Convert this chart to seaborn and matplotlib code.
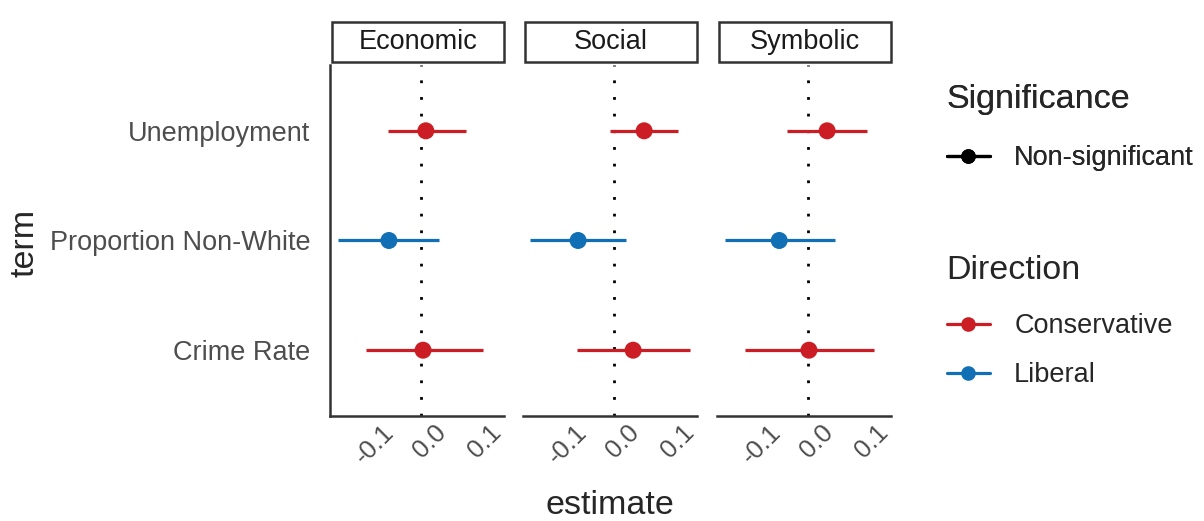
import pandas as pd
import numpy as np
import matplotlib.pyplot as plt
import seaborn as sns
from matplotlib.lines import Line2D
from matplotlib.patches import Rectangle
from matplotlib.transforms import ScaledTranslation

# datos
panels = ["Economic", "Social", "Symbolic"]
terms = ["Crime Rate", "Proportion Non-White", "Unemployment"]  # de abajo hacia arriba

est_economic = [0.004, -0.058, 0.009]
low_economic = [-0.100, -0.151, -0.060]
high_economic = [0.113, 0.033, 0.082]

est_social = [0.035, -0.065, 0.055]
low_social = [-0.067, -0.153, -0.007]
high_social = [0.138, 0.022, 0.117]

est_symbolic = [0.002, -0.052, 0.035]
low_symbolic = [-0.114, -0.151, -0.038]
high_symbolic = [0.120, 0.049, 0.107]

direction = ["Conservative", "Liberal", "Conservative"]
xticks = [-0.1, 0.0, 0.1]
xticklabels = ["-0.1", "0.0", "0.1"]

colores = {"Conservative": "#CB1D23", "Liberal": "#1170B5"}

filas = []
for p, e, lo, hi in zip(panels,
                        [est_economic, est_social, est_symbolic],
                        [low_economic, low_social, low_symbolic],
                        [high_economic, high_social, high_symbolic]):
    for i, t in enumerate(terms):
        filas.append({"panel": p, "term": t, "pos": i + 1, "estimate": e[i],
                      "low": lo[i], "high": hi[i], "Direction": direction[i]})
df = pd.DataFrame(filas)

sns.set_style("white")
plt.rcParams['font.family'] = ['Liberation Sans', 'DejaVu Sans']

W, H = 1204, 521
fig = plt.figure(figsize=(W / 100, H / 100), dpi=100)

lefts = [330, 523, 717]
ancho = 174
top, bottom = 65, 416
txt = 19.5
tit = 24.5

for k, p in enumerate(panels):
    ax = fig.add_axes([lefts[k] / W, (H - bottom) / H, ancho / W, (bottom - top) / H])
    d = df[df.panel == p]
    ax.axvline(0, color="black", linestyle=(0, (1, 5)), linewidth=2.0, zorder=1)
    for _, r in d.iterrows():
        ax.hlines(r["pos"], r["low"], r["high"], color=colores[r["Direction"]],
                  linewidth=2.3, zorder=2)
    sns.scatterplot(data=d, x="estimate", y="pos", hue="Direction", palette=colores,
                    s=150, edgecolor="none", legend=False, ax=ax, zorder=3)
    ax.set_xlim(-0.165, 0.151)
    ax.set_ylim(0.4, 3.6)
    ax.set_xlabel("")
    ax.set_ylabel("")
    for s in ["top", "right"]:
        ax.spines[s].set_visible(False)
    ax.spines["bottom"].set_color("#333333")
    ax.spines["bottom"].set_linewidth(1.8)
    ax.tick_params(axis="x", length=6, width=1.6, color="#333333", pad=2)
    ax.set_xticks(xticks)
    ax.set_xticklabels(xticklabels, rotation=45, ha="center", va="top",
                       fontsize=18.5, color="#4D4D4D")
    # desplazar etiquetas como en ggplot (angle = 45)
    for lab in ax.get_xticklabels():
        lab.set_transform(lab.get_transform() + ScaledTranslation(0.09, 0.07, fig.dpi_scale_trans))
    if k == 0:
        ax.spines["left"].set_color("#333333")
        ax.spines["left"].set_linewidth(1.8)
        ax.tick_params(axis="y", length=6, width=1.6, color="#333333", pad=8)
        ax.set_yticks([1, 2, 3])
        ax.set_yticklabels(terms, fontsize=txt, color="#4D4D4D")
    else:
        ax.spines["left"].set_visible(False)
        ax.set_yticks([])
    # cabecera del facet
    fig.patches.append(Rectangle(((lefts[k] + 2) / W, (H - 62) / H), (ancho - 2) / W, 40 / H,
                                 transform=fig.transFigure, facecolor="white",
                                 edgecolor="#333333", linewidth=1.8))
    fig.text((lefts[k] + 1 + ancho / 2) / W, (H - 42) / H, p, ha="center", va="center",
             fontsize=txt, color="#1A1A1A")

fig.text(25 / W, (H - 243) / H, "term", rotation=90, ha="center", va="center", fontsize=tit)
fig.text(610 / W, (H - 505) / H, "estimate", ha="center", va="center", fontsize=tit)

h_sig = [Line2D([], [], color="black", marker="o", markersize=9.5, linewidth=2.3)]
leg1 = fig.legend(h_sig, ["Non-significant"], title="Significance", loc="upper left",
                  bbox_to_anchor=(933 / W, (H - 70) / H), frameon=False, fontsize=txt,
                  title_fontsize=tit, handlelength=1.6, alignment="left", borderpad=0,
                  handletextpad=0.9)
leg1._legend_box.sep = 22
h_dir = [Line2D([], [], color=colores[c], marker="o", markersize=9.5, linewidth=2.3)
         for c in ["Conservative", "Liberal"]]
leg2 = fig.legend(h_dir, ["Conservative", "Liberal"], title="Direction", loc="upper left",
                  bbox_to_anchor=(933 / W, (H - 241) / H), frameon=False, fontsize=txt,
                  title_fontsize=tit, handlelength=1.6, alignment="left", labelspacing=0.85,
                  borderpad=0, handletextpad=0.9)
leg2._legend_box.sep = 20
fig.add_artist(leg1)

fig.savefig("out.png", dpi=100)
